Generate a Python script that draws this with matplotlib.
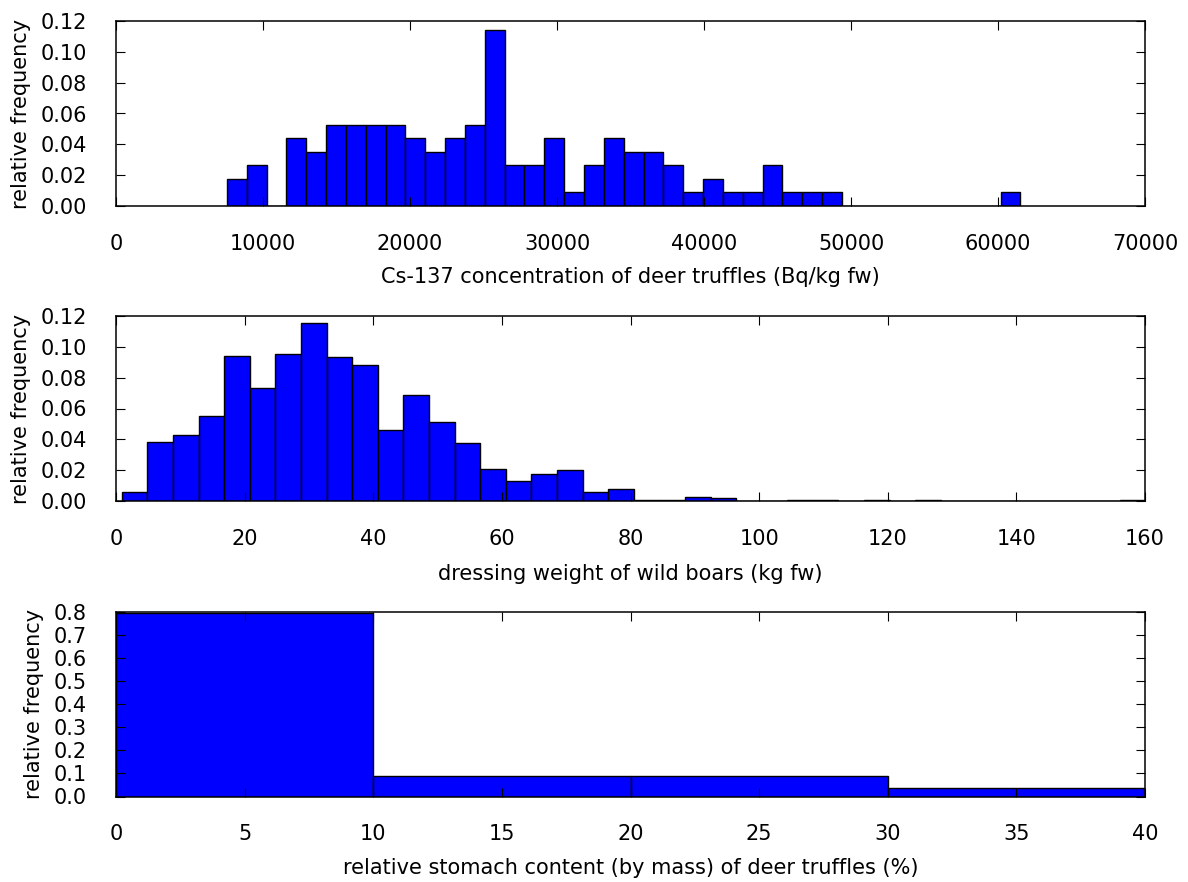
import numpy as np
import matplotlib
matplotlib.use("Agg")
import matplotlib.pyplot as plt

# ---- data ----
# Panel 1: Cs-137 concentration of deer truffles, 40 bins between min and max
cs_min, cs_max = 7540.0, 61530.0
cs_freq = [0.0175, 0.0263, 0.0, 0.0439, 0.0351, 0.0526, 0.0526, 0.0526, 0.0526, 0.0439,
           0.0351, 0.0439, 0.0526, 0.1140, 0.0263, 0.0263, 0.0439, 0.0088, 0.0263, 0.0439,
           0.0351, 0.0351, 0.0263, 0.0088, 0.0175, 0.0088, 0.0088, 0.0263, 0.0088, 0.0088,
           0.0088, 0.0, 0.0, 0.0, 0.0, 0.0, 0.0, 0.0, 0.0, 0.0088]
cs_xticks = [0, 10000, 20000, 30000, 40000, 50000, 60000, 70000]
cs_yticks = [0.00, 0.02, 0.04, 0.06, 0.08, 0.10, 0.12]

# Panel 2: dressing weight of wild boars, 40 bins between min and max
wb_min, wb_max = 0.9, 160.1
wb_freq = [0.0061, 0.0383, 0.0428, 0.0551, 0.0943, 0.0733, 0.0953, 0.1152, 0.0932, 0.0882,
           0.0460, 0.0690, 0.0512, 0.0376, 0.0210, 0.0132, 0.0173, 0.0201, 0.0061, 0.0078,
           0.0009, 0.0009, 0.0026, 0.0017, 0.0, 0.0, 0.0009, 0.0009, 0.0, 0.0009,
           0.0, 0.0009, 0.0, 0.0, 0.0, 0.0, 0.0, 0.0, 0.0, 0.0009]
wb_xticks = [0, 20, 40, 60, 80, 100, 120, 140, 160]
wb_yticks = [0.00, 0.02, 0.04, 0.06, 0.08, 0.10, 0.12]

# Panel 3: relative stomach content
sc_edges = [0, 10, 20, 30, 40]
sc_freq = [0.795, 0.088, 0.088, 0.035]
sc_xticks = [0, 5, 10, 15, 20, 25, 30, 35, 40]
sc_yticks = [0.0, 0.1, 0.2, 0.3, 0.4, 0.5, 0.6, 0.7, 0.8]

labels_x = ["Cs-137 concentration of deer truffles (Bq/kg fw)",
            "dressing weight of wild boars (kg fw)",
            "relative stomach content (by mass) of deer truffles (%)"]
ylab = "relative frequency"

plt.rcParams['font.family'] = ['DejaVu Sans']
W, H = 1188, 882
fig = plt.figure(figsize=(W / 100, H / 100), dpi=100)

def frac_axes(top, bottom, left=116, right=1145):
    return fig.add_axes([left / W, 1 - bottom / H, (right - left) / W, (bottom - top) / H])

fs = 15

def style(ax, xticks, yticks, xlim, ylim, fmt, xlabel, label_y):
    ax.set_xlim(*xlim)
    ax.set_ylim(*ylim)
    ax.set_xticks(xticks)
    ax.set_yticks(yticks)
    ax.set_yticklabels([fmt.format(v) for v in yticks])
    ax.tick_params(direction='in', length=6.5, width=0.8, top=True, right=True,
                   labelsize=fs, colors='black')
    ax.tick_params(axis='x', pad=20)
    ax.tick_params(axis='y', pad=21)
    for s in ax.spines.values():
        s.set_linewidth(1.1)
    ax.set_xlabel(xlabel, fontsize=fs, va='top')
    ax.xaxis.set_label_coords(0.5, label_y)
    ax.set_ylabel(ylab, fontsize=fs, labelpad=7)

def draw(ax, edges, freq):
    edges = np.asarray(edges, dtype=float)
    ax.bar(edges[:-1], freq, width=np.diff(edges), align='edge',
           color='#0000ff', edgecolor='black', linewidth=1.0, zorder=1)

ax1 = frac_axes(21, 206)
draw(ax1, np.linspace(cs_min, cs_max, len(cs_freq) + 1), cs_freq)
style(ax1, cs_xticks, cs_yticks, (0, 70000), (0, 0.12), "{:.2f}", labels_x[0], -0.33)

ax2 = frac_axes(316, 501)
draw(ax2, np.linspace(wb_min, wb_max, len(wb_freq) + 1), wb_freq)
style(ax2, wb_xticks, wb_yticks, (0, 160), (0, 0.12), "{:.2f}", labels_x[1], -0.34)

ax3 = frac_axes(612, 796.5)
draw(ax3, sc_edges, sc_freq)
style(ax3, sc_xticks, sc_yticks, (0, 40), (0, 0.8), "{:.1f}", labels_x[2], -0.335)

for ax in (ax1, ax2, ax3):
    for t in ax.xaxis.get_major_ticks() + ax.yaxis.get_major_ticks():
        t.tick1line.set_zorder(5)
        t.tick2line.set_zorder(5)
    ax.set_axisbelow(False)

fig.savefig("out.png", dpi=100, facecolor='white')
